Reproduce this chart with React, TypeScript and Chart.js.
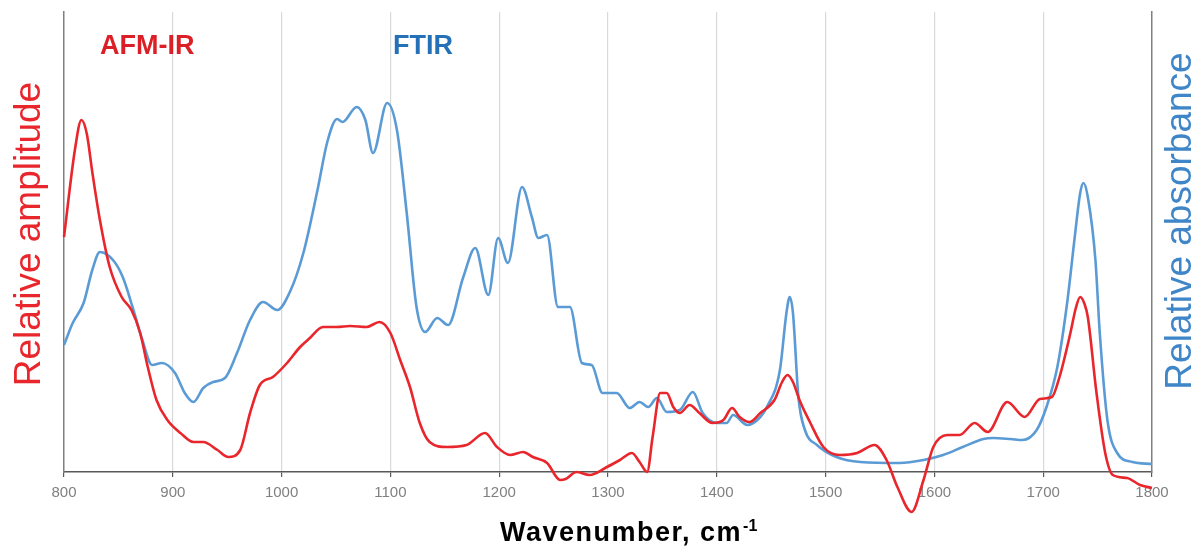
import React, { useEffect, useRef } from "react";
import { Chart, registerables } from "chart.js";

Chart.register(...registerables);

// Wavenumber tick labels (cm-1)
const xTicks = [800, 900, 1000, 1100, 1200, 1300, 1400, 1500, 1600, 1700, 1800];

// AFM-IR (relative amplitude)
const afmWavenumbers = [
  800, 810, 816, 821, 826, 833, 842, 853, 862, 870, 877, 885,
  895, 907, 919, 928, 941, 951, 962, 971, 980, 992,
  1005, 1017, 1026, 1038, 1051, 1063, 1078, 1090, 1100, 1109,
  1118, 1127, 1136, 1152, 1170, 1187, 1198, 1210, 1222, 1231,
  1244, 1256, 1261, 1271, 1283, 1299, 1311, 1322, 1329, 1336,
  1341, 1348, 1354, 1360, 1366, 1375, 1384, 1396, 1406, 1414,
  1421, 1430, 1440, 1453, 1460, 1465, 1470, 1476, 1486, 1498, 1513, 1529,
  1545, 1556, 1566, 1579, 1590, 1599, 1612, 1623, 1637, 1649,
  1667, 1683, 1697, 1708, 1715, 1725, 1730, 1734, 1738, 1741, 1749, 1757,
  1764, 1777, 1789, 1800,
];
const afmValues = [
  235, 322, 352, 338, 300, 252, 205, 175, 162, 139, 105, 72,
  52, 39, 30, 30, 22, 15, 22, 59, 87, 95,
  109, 125, 134, 145, 145, 146, 145, 150, 139, 112,
  85, 49, 30, 25, 27, 39, 25, 17, 20, 15,
  9, -8, -7, 0, -3, 5, 12, 19, 10, 0,
  35, 79, 79, 65, 59, 67, 59, 49, 52, 64,
  55, 50, 59, 72, 90, 97, 90, 72, 49, 25, 17, 19,
  27, 12, -15, -40, -8, 25, 37, 37, 49, 40,
  70, 55, 73, 75, 95, 139, 164, 175, 168, 155, 79, 19,
  -3, -6, -13, -16,
];

// FTIR (relative absorbance)
const ftirWavenumbers = [
  800, 808, 818, 826, 833, 845, 854, 863, 872, 881,
  890, 902, 911, 919, 928, 937, 948, 959, 971, 983,
  996, 1008, 1020, 1033, 1042, 1051, 1056, 1069, 1077, 1084,
  1097, 1106, 1115, 1124, 1132, 1143, 1153, 1167, 1178, 1190,
  1199, 1208, 1221, 1230, 1236, 1244, 1254, 1265, 1276, 1285,
  1295, 1308, 1320, 1329, 1337, 1345, 1354, 1366, 1378, 1387,
  1400, 1409, 1415, 1428, 1440, 1446, 1458, 1464, 1467, 1470,
  1475, 1481, 1492, 1510, 1532, 1568, 1590, 1608, 1626, 1645,
  1654, 1670, 1681, 1694, 1703, 1713, 1722, 1729, 1734, 1737,
  1741, 1748, 1752, 1759, 1768, 1782, 1800,
];
const ftirValues = [
  127, 149, 169, 202, 220, 212, 195, 165, 132, 107,
  109, 99, 79, 70, 84, 90, 94, 119, 152, 170,
  162, 181, 219, 282, 330, 353, 350, 365, 352, 319,
  369, 342, 259, 165, 140, 154, 147, 195, 224, 177,
  234, 209, 285, 255, 234, 237, 165, 165, 109, 107,
  79, 79, 64, 70, 65, 74, 60, 62, 80, 59,
  49, 49, 57, 47, 55, 65, 102, 159, 175, 159,
  75, 42, 27, 15, 10, 9, 12, 17, 25, 33,
  34, 33, 32, 42, 65, 105, 169, 235, 279, 289,
  275, 212, 139, 52, 19, 10, 8,
];

const FONT = '"Liberation Sans", Arial, sans-serif';
const RED = "#e8262c";
const BLUE = "#5b9bd5";

export default function App() {
  const ref = useRef<HTMLCanvasElement>(null);

  useEffect(() => {
    document.body.style.margin = "0";
    const canvas = ref.current;
    if (!canvas) return;

    const textPlugin = {
      id: "spectraTexts",
      afterDraw(chart: any) {
        const ctx = chart.ctx as CanvasRenderingContext2D;
        ctx.save();
        ctx.textAlign = "center";
        ctx.textBaseline = "middle";

        // left axis title
        ctx.save();
        ctx.font = `37px ${FONT}`;
        ctx.fillStyle = RED;
        ctx.translate(30, 234);
        ctx.rotate(-Math.PI / 2);
        ctx.fillText("Relative amplitude", 0, 0);
        ctx.restore();

        // right axis title
        ctx.save();
        ctx.font = `37px ${FONT}`;
        ctx.fillStyle = "#3f86c8";
        ctx.translate(1181, 221);
        ctx.rotate(-Math.PI / 2);
        ctx.fillText("Relative absorbance", 0, 0);
        ctx.restore();

        // series labels
        ctx.textAlign = "left";
        ctx.textBaseline = "alphabetic";
        ctx.font = `bold 27px ${FONT}`;
        ctx.fillStyle = "#dc1f26";
        ctx.fillText("AFM-IR", 100, 54);
        ctx.fillStyle = "#2471b8";
        ctx.fillText("FTIR", 393, 54);

        // x axis title with superscript
        ctx.fillStyle = "#000000";
        ctx.font = `bold 27px ${FONT}`;
        (ctx as any).letterSpacing = "1.5px";
        const main = "Wavenumber, cm";
        ctx.fillText(main, 500, 541);
        const w = ctx.measureText(main).width;
        ctx.font = `bold 16px ${FONT}`;
        (ctx as any).letterSpacing = "0px";
        ctx.fillText("-1", 500 + w + 1, 531);
        ctx.restore();
      },
    };

    const chart = new Chart(canvas, {
      type: "line",
      data: {
        datasets: [
          {
            label: "AFM-IR",
            data: afmWavenumbers.map((x, i) => ({ x, y: afmValues[i] })),
            borderColor: RED,
            borderWidth: 2.6,
            pointRadius: 0,
            cubicInterpolationMode: "monotone",
            yAxisID: "y",
            clip: false as any,
          },
          {
            label: "FTIR",
            data: ftirWavenumbers.map((x, i) => ({ x, y: ftirValues[i] })),
            borderColor: BLUE,
            borderWidth: 2.6,
            pointRadius: 0,
            cubicInterpolationMode: "monotone",
            yAxisID: "y2",
            clip: false as any,
          },
        ],
      },
      options: {
        responsive: false,
        animation: false,
        devicePixelRatio: 1,
        layout: { padding: { left: 64, right: 49, top: 12, bottom: 50 } },
        plugins: {
          legend: { display: false },
          tooltip: { enabled: false },
          title: { display: false },
        },
        scales: {
          x: {
            type: "linear",
            min: 800,
            max: 1800,
            afterBuildTicks: (s: any) => {
              s.ticks = xTicks.map((v) => ({ value: v }));
            },
            afterFit: (s: any) => {
              s.height = 30;
            },
            ticks: {
              color: "#808080",
              font: { family: FONT, size: 15 },
              padding: 7,
              maxRotation: 0,
              autoSkip: false,
              callback: (v: any) => String(v),
            },
            grid: {
              color: (c: any) =>
                c.tick && (c.tick.value === 800 || c.tick.value === 1800)
                  ? "rgba(0,0,0,0)"
                  : "#d9d9d9",
              lineWidth: 1.2,
              tickColor: "#595959",
              tickLength: 5,
            },
            border: { color: "#595959", width: 1.5 },
          },
          y: {
            position: "left",
            min: 0,
            max: 460,
            ticks: { display: false },
            grid: { display: false },
            border: { color: "#7f7f7f", width: 1.5 },
            afterFit: (s: any) => {
              s.width = 0;
            },
          },
          y2: {
            position: "right",
            min: 0,
            max: 460,
            ticks: { display: false },
            grid: { display: false },
            border: { color: "#7f7f7f", width: 1.5 },
            afterFit: (s: any) => {
              s.width = 0;
            },
          },
        },
      },
      plugins: [textPlugin],
    });

    return () => chart.destroy();
  }, []);

  return (
    <div style={{ position: "fixed", left: 0, top: 0, width: 1201, height: 552, background: "#ffffff" }}>
      <canvas ref={ref} width={1201} height={552} style={{ display: "block" }} />
    </div>
  );
}
